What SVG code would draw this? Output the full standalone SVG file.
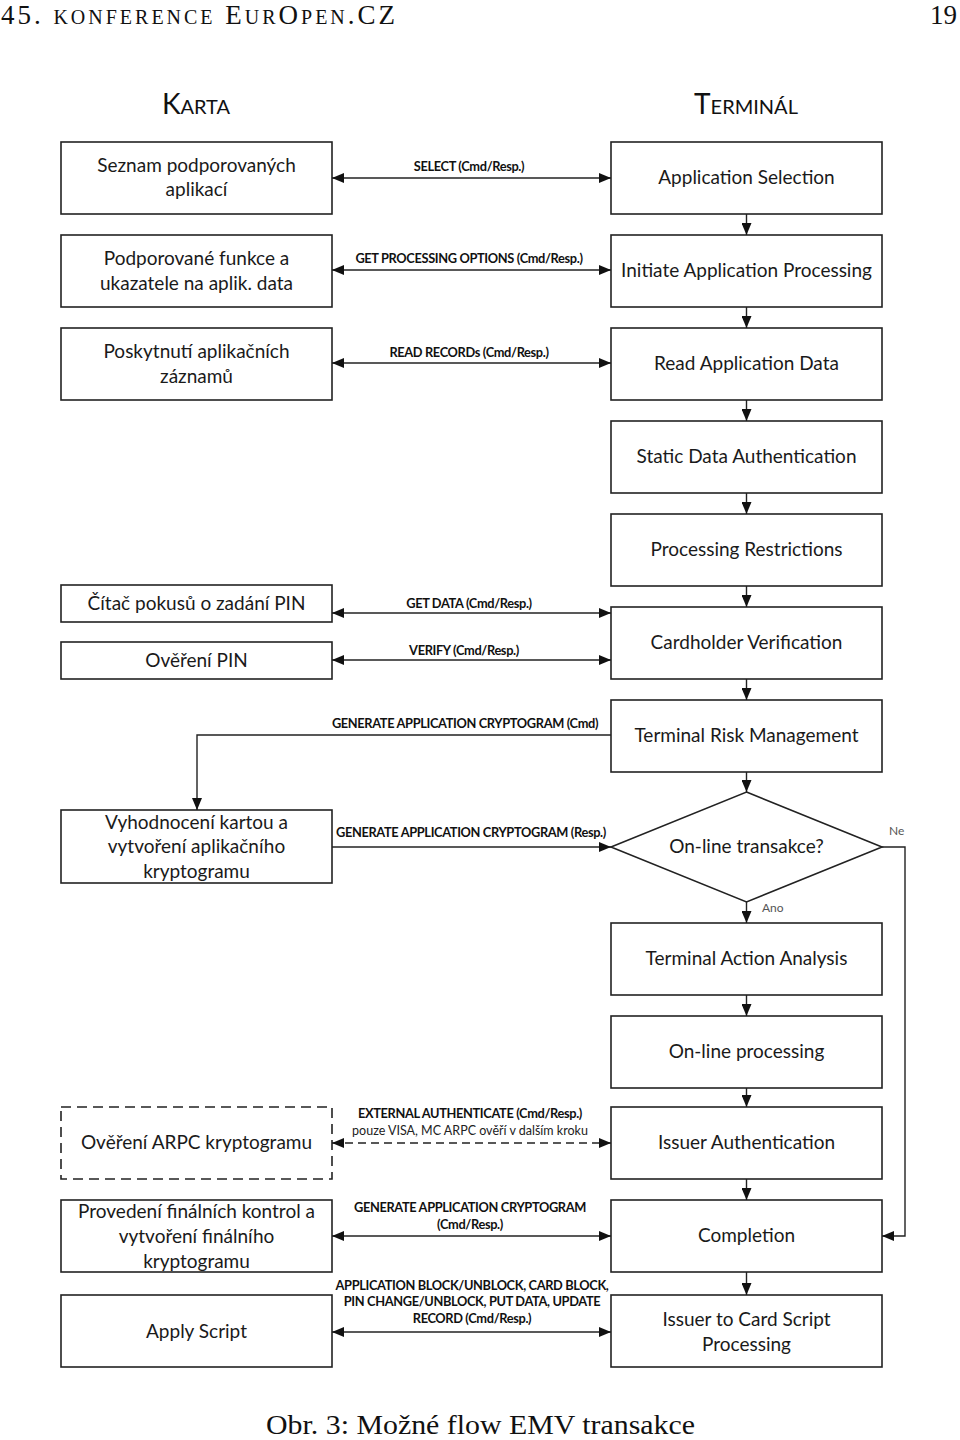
<svg xmlns="http://www.w3.org/2000/svg" width="960" height="1440" viewBox="0 0 960 1440">
<style>
.bg{fill:#fff}
.box{fill:#fff;stroke:#222;stroke-width:1.6}
.dash{fill:#fff;stroke:#222;stroke-width:1.6;stroke-dasharray:10,6}
.t{font-family:Lato,"Open Sans",sans-serif;font-size:19px;fill:#1a1a1a;text-anchor:middle}
.l{font-family:Lato,"Open Sans",sans-serif;font-size:12.8px;font-weight:bold;fill:#111;text-anchor:middle;letter-spacing:-0.35px}
.ln{font-family:Lato,"Open Sans",sans-serif;font-size:12.5px;fill:#222;text-anchor:middle}
.s{font-family:Lato,"Open Sans",sans-serif;font-size:12px;fill:#555}
.hd{font-family:Lato,"Open Sans",sans-serif;font-size:28px;font-variant:small-caps;fill:#111;text-anchor:middle}
.serif{font-family:"Liberation Serif","DejaVu Serif",serif;fill:#111}
.sc{font-size:20px}
.c{fill:none;stroke:#222;stroke-width:1.4}
.cd{fill:none;stroke:#222;stroke-width:1.4;stroke-dasharray:8,5}
</style>
<defs>
<marker id="ah" viewBox="0 0 12 10" refX="12" refY="5" markerWidth="12" markerHeight="10" markerUnits="userSpaceOnUse" orient="auto-start-reverse">
<path d="M0,0 L12,5 L0,10 z" fill="#111"/>
</marker>
</defs>
<rect class="bg" x="0" y="0" width="960" height="1440"/>

<g id="header">
<text class="serif" x="1" y="24" font-size="27" textLength="394" lengthAdjust="spacing">45. <tspan class="sc">KONFERENCE</tspan> E<tspan class="sc">UR</tspan>O<tspan class="sc">PEN</tspan>.CZ</text>
<text class="serif" x="957" y="24" font-size="27" text-anchor="end">19</text>
<text class="hd" x="196" y="114">Karta</text>
<text class="hd" x="746" y="114">Terminál</text>
</g>

<!-- Right column (terminal) -->
<g id="n-appsel"><rect class="box" x="611" y="142" width="271" height="72"/><text class="t" x="746.5" y="184">Application Selection</text></g>
<g id="n-init"><rect class="box" x="611" y="235" width="271" height="72"/><text class="t" x="746.5" y="277">Initiate Application Processing</text></g>
<g id="n-read"><rect class="box" x="611" y="328" width="271" height="72"/><text class="t" x="746.5" y="370">Read Application Data</text></g>
<g id="n-sda"><rect class="box" x="611" y="421" width="271" height="72"/><text class="t" x="746.5" y="463">Static Data Authentication</text></g>
<g id="n-pr"><rect class="box" x="611" y="514" width="271" height="72"/><text class="t" x="746.5" y="556">Processing Restrictions</text></g>
<g id="n-cv"><rect class="box" x="611" y="607" width="271" height="72"/><text class="t" x="746.5" y="649">Cardholder Verification</text></g>
<g id="n-trm"><rect class="box" x="611" y="700" width="271" height="72"/><text class="t" x="746.5" y="742">Terminal Risk Management</text></g>
<g id="n-online"><polygon class="box" points="746.5,792 882,847 746.5,902 611,847"/><text class="t" x="746.5" y="853">On-line transakce?</text></g>
<g id="n-taa"><rect class="box" x="611" y="923" width="271" height="72"/><text class="t" x="746.5" y="965">Terminal Action Analysis</text></g>
<g id="n-olp"><rect class="box" x="611" y="1016" width="271" height="72"/><text class="t" x="746.5" y="1058">On-line processing</text></g>
<g id="n-ia"><rect class="box" x="611" y="1107" width="271" height="72"/><text class="t" x="746.5" y="1149">Issuer Authentication</text></g>
<g id="n-comp"><rect class="box" x="611" y="1200" width="271" height="72"/><text class="t" x="746.5" y="1242">Completion</text></g>
<g id="n-script"><rect class="box" x="611" y="1295" width="271" height="72"/><text class="t" x="746.5" y="1326">Issuer to Card Script</text><text class="t" x="746.5" y="1351">Processing</text></g>

<!-- Left column (card) -->
<g id="c-seznam"><rect class="box" x="61" y="142" width="271" height="72"/><text class="t" x="196.5" y="172">Seznam podporovaných</text><text class="t" x="196.5" y="196">aplikací</text></g>
<g id="c-funkce"><rect class="box" x="61" y="235" width="271" height="72"/><text class="t" x="196.5" y="265">Podporované funkce a</text><text class="t" x="196.5" y="290">ukazatele na aplik. data</text></g>
<g id="c-zaznamy"><rect class="box" x="61" y="328" width="271" height="72"/><text class="t" x="196.5" y="358">Poskytnutí aplikačních</text><text class="t" x="196.5" y="383">záznamů</text></g>
<g id="c-citac"><rect class="box" x="61" y="585" width="271" height="37"/><text class="t" x="196.5" y="610">Čítač pokusů o zadání PIN</text></g>
<g id="c-pin"><rect class="box" x="61" y="642" width="271" height="37"/><text class="t" x="196.5" y="667">Ověření PIN</text></g>
<g id="c-vyhod"><rect class="box" x="61" y="810" width="271" height="73"/><text class="t" x="196.5" y="829">Vyhodnocení kartou a</text><text class="t" x="196.5" y="853">vytvoření aplikačního</text><text class="t" x="196.5" y="878">kryptogramu</text></g>
<g id="c-arpc"><rect class="dash" x="61" y="1107" width="271" height="72"/><text class="t" x="196.5" y="1149">Ověření ARPC kryptogramu</text></g>
<g id="c-final"><rect class="box" x="61" y="1200" width="271" height="72"/><text class="t" x="196.5" y="1218">Provedení finálních kontrol a</text><text class="t" x="196.5" y="1243">vytvoření finálního</text><text class="t" x="196.5" y="1268">kryptogramu</text></g>
<g id="c-apply"><rect class="box" x="61" y="1295" width="271" height="72"/><text class="t" x="196.5" y="1338">Apply Script</text></g>

<g id="connectors">
<!-- vertical flow -->
<path class="c" d="M746.5,214 V235" marker-end="url(#ah)"/>
<path class="c" d="M746.5,307 V328" marker-end="url(#ah)"/>
<path class="c" d="M746.5,400 V421" marker-end="url(#ah)"/>
<path class="c" d="M746.5,493 V514" marker-end="url(#ah)"/>
<path class="c" d="M746.5,586 V607" marker-end="url(#ah)"/>
<path class="c" d="M746.5,679 V700" marker-end="url(#ah)"/>
<path class="c" d="M746.5,772 V792" marker-end="url(#ah)"/>
<path class="c" d="M746.5,902 V923" marker-end="url(#ah)"/>
<path class="c" d="M746.5,995 V1016" marker-end="url(#ah)"/>
<path class="c" d="M746.5,1088 V1107" marker-end="url(#ah)"/>
<path class="c" d="M746.5,1179 V1200" marker-end="url(#ah)"/>
<path class="c" d="M746.5,1272 V1295" marker-end="url(#ah)"/>
<path class="c" d="M882,847 H905 V1236 H882" marker-end="url(#ah)"/>
<text class="s" x="889" y="835">Ne</text>
<text class="s" x="762" y="912">Ano</text>

<!-- card/terminal exchanges -->
<path class="c" d="M332,178 H611" marker-start="url(#ah)" marker-end="url(#ah)"/>
<text class="l" x="469" y="171">SELECT (Cmd/Resp.)</text>
<path class="c" d="M332,270 H611" marker-start="url(#ah)" marker-end="url(#ah)"/>
<text class="l" x="469" y="263">GET PROCESSING OPTIONS (Cmd/Resp.)</text>
<path class="c" d="M332,363 H611" marker-start="url(#ah)" marker-end="url(#ah)"/>
<text class="l" x="469" y="357">READ RECORDs (Cmd/Resp.)</text>
<path class="c" d="M332,613 H611" marker-start="url(#ah)" marker-end="url(#ah)"/>
<text class="l" x="469" y="608">GET DATA (Cmd/Resp.)</text>
<path class="c" d="M332,660 H611" marker-start="url(#ah)" marker-end="url(#ah)"/>
<text class="l" x="464" y="655">VERIFY (Cmd/Resp.)</text>
<path class="c" d="M611,735 H197 V810" marker-end="url(#ah)"/>
<text class="l" x="465" y="728">GENERATE APPLICATION CRYPTOGRAM (Cmd)</text>
<path class="c" d="M332,847 H611" marker-end="url(#ah)"/>
<text class="l" x="471" y="837">GENERATE APPLICATION CRYPTOGRAM (Resp.)</text>
<path class="cd" d="M332,1143 H611" marker-start="url(#ah)" marker-end="url(#ah)"/>
<text class="l" x="470" y="1118">EXTERNAL AUTHENTICATE  (Cmd/Resp.)</text>
<text class="ln" x="470" y="1135">pouze VISA, MC ARPC ověří v dalším kroku</text>
<path class="c" d="M332,1236 H611" marker-start="url(#ah)" marker-end="url(#ah)"/>
<text class="l" x="470" y="1212">GENERATE APPLICATION CRYPTOGRAM</text>
<text class="l" x="470" y="1229">(Cmd/Resp.)</text>
<path class="c" d="M332,1332 H611" marker-start="url(#ah)" marker-end="url(#ah)"/>
<text class="l" x="472" y="1290">APPLICATION BLOCK/UNBLOCK, CARD BLOCK,</text>
<text class="l" x="472" y="1306">PIN CHANGE/UNBLOCK, PUT DATA, UPDATE</text>
<text class="l" x="472" y="1323">RECORD (Cmd/Resp.)</text>
</g>

<g id="caption">
<text class="serif" x="266" y="1434" font-size="28" textLength="429" lengthAdjust="spacingAndGlyphs">Obr. 3: Možné flow EMV transakce</text>
</g>
</svg>
